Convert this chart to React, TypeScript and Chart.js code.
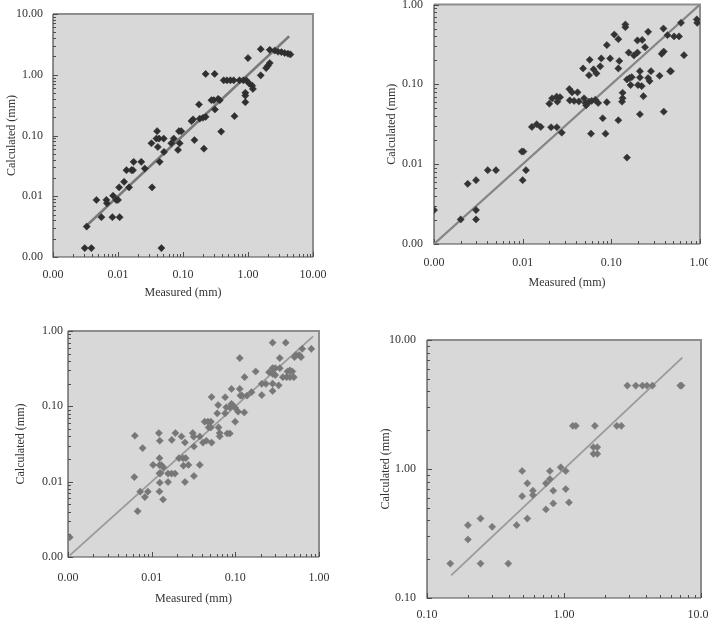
import React, { useEffect, useRef } from "react";
import { Chart, registerables } from "chart.js";

Chart.register(...registerables);

// ---- Panel A (top left) ----
const measuredA = [
  0.00308, 0.00389, 0.0033, 0.00556, 0.00466, 0.00663, 0.00676, 0.0094, 0.01, 0.0084,
  0.0082, 0.0106, 0.0104, 0.0124, 0.0135, 0.0161, 0.017, 0.0148, 0.0174, 0.0228,
  0.0258, 0.0327, 0.039, 0.0428, 0.04, 0.041, 0.0438, 0.0505, 0.051, 0.0465,
  0.0334, 0.066, 0.072, 0.0868, 0.094, 0.089, 0.0838, 0.15, 0.21, 0.135,
  0.143, 0.181, 0.203, 0.223, 0.176, 0.274, 0.298, 0.347, 0.368, 0.31,
  0.387, 0.62, 0.223, 0.307, 0.423, 0.475, 0.536, 0.603, 0.74, 0.85,
  0.94, 1.05, 1.16, 1.19, 0.91, 0.91, 0.91, 1.0, 1.57, 1.9,
  2.03, 2.16, 1.57, 2.16, 2.58, 2.9, 3.27, 3.67, 4.12, 4.49,
];
const calculatedA = [
  0.0014, 0.0014, 0.00317, 0.00452, 0.00868, 0.0087, 0.0077, 0.0087, 0.0087, 0.0102,
  0.00452, 0.00452, 0.014, 0.0173, 0.0269, 0.0269, 0.0269, 0.014, 0.0368, 0.0368,
  0.0286, 0.0745, 0.089, 0.089, 0.118, 0.0647, 0.0368, 0.089, 0.0536, 0.0014,
  0.014, 0.0745, 0.089, 0.118, 0.118, 0.0745, 0.0579, 0.084, 0.0607, 0.173,
  0.184, 0.189, 0.196, 0.203, 0.324, 0.381, 0.381, 0.4, 0.381, 0.268,
  0.116, 0.208, 1.03, 1.03, 0.81, 0.81, 0.81, 0.81, 0.81, 0.81,
  0.81, 0.714, 0.662, 0.585, 0.504, 0.454, 0.353, 1.88, 0.977, 1.29,
  1.41, 1.56, 2.64, 2.57, 2.5, 2.39, 2.36, 2.28, 2.22, 2.16,
];
const fitA = [0.0033, 4.3];
const ticksA = [0.001, 0.01, 0.1, 1, 10];

// ---- Panel B (top right) ----
const measuredB = [
  0.001, 0.002, 0.0024, 0.00298, 0.00298, 0.00298, 0.00404, 0.005, 0.00977, 0.0102,
  0.01, 0.0109, 0.0127, 0.0144, 0.016, 0.0209, 0.0243, 0.0276, 0.144, 0.144,
  0.108, 0.12, 0.089, 0.26, 0.197, 0.223, 0.24, 0.387, 0.43, 0.51,
  0.58, 0.61, 0.92, 0.93, 0.66, 0.37, 0.39, 0.46, 0.47, 0.35,
  0.28, 0.26, 0.27, 0.21, 0.21, 0.2, 0.22, 0.23, 0.16, 0.17,
  0.15, 0.165, 0.157, 0.18, 0.197, 0.134, 0.134, 0.132, 0.21, 0.39,
  0.15, 0.12, 0.08, 0.059, 0.086, 0.048, 0.057, 0.077, 0.097, 0.123,
  0.063, 0.068, 0.056, 0.075, 0.12, 0.02, 0.0215, 0.0242, 0.0264, 0.0246,
  0.0336, 0.0361, 0.0416, 0.034, 0.038, 0.043, 0.0493, 0.051, 0.052, 0.056,
  0.06, 0.066, 0.071, 0.089,
];
const calculatedB = [
  0.00266, 0.00203, 0.00567, 0.0063, 0.00266, 0.00203, 0.0084, 0.0084, 0.0144, 0.0144,
  0.0063, 0.0084, 0.0293, 0.0316, 0.0293, 0.029, 0.029, 0.0248, 0.562, 0.52,
  0.42, 0.368, 0.31, 0.455, 0.355, 0.36, 0.292, 0.5, 0.413, 0.398,
  0.398, 0.59, 0.65, 0.59, 0.232, 0.241, 0.257, 0.146, 0.146, 0.128,
  0.146, 0.12, 0.11, 0.146, 0.122, 0.098, 0.095, 0.071, 0.12, 0.123,
  0.115, 0.098, 0.25, 0.23, 0.25, 0.0785, 0.067, 0.0607, 0.0422, 0.0455,
  0.0121, 0.0355, 0.0376, 0.0241, 0.0241, 0.158, 0.203, 0.211, 0.211, 0.196,
  0.154, 0.137, 0.13, 0.168, 0.158, 0.0573, 0.0668, 0.07, 0.069, 0.0607,
  0.0873, 0.0794, 0.0794, 0.063, 0.062, 0.061, 0.0668, 0.0584, 0.0546, 0.0607,
  0.062, 0.064, 0.0584, 0.0597,
];
const fitB = [0.001, 1];
const ticksB = [0.001, 0.01, 0.1, 1];

// ---- Panel C (bottom left) ----
const measuredC = [
  0.00105, 0.0063, 0.0062, 0.0078, 0.0068, 0.0073, 0.0083, 0.009, 0.0104, 0.0122,
  0.0125, 0.0124, 0.0124, 0.0124, 0.0125, 0.0124, 0.0137, 0.013, 0.0138, 0.0128,
  0.0157, 0.0157, 0.0173, 0.0174, 0.0192, 0.019, 0.0212, 0.0237, 0.0255, 0.0227,
  0.024, 0.0275, 0.025, 0.025, 0.031, 0.0318, 0.032, 0.032, 0.0376, 0.0376,
  0.041, 0.045, 0.052, 0.043, 0.047, 0.051, 0.051, 0.052, 0.048, 0.0623,
  0.0608, 0.063, 0.065, 0.065, 0.0755, 0.0755, 0.078, 0.086, 0.09, 0.094,
  0.08, 0.086, 0.09, 0.1, 0.108, 0.0995, 0.113, 0.113, 0.12, 0.115,
  0.129, 0.128, 0.138, 0.156, 0.175, 0.207, 0.232, 0.207, 0.253, 0.279,
  0.279, 0.3, 0.34, 0.279, 0.3, 0.279, 0.279, 0.33, 0.4, 0.34,
  0.42, 0.45, 0.48, 0.37, 0.41, 0.45, 0.5, 0.51, 0.53, 0.58,
  0.61, 0.63, 0.81,
];
const calculatedC = [
  0.00183, 0.0407, 0.0115, 0.0279, 0.00406, 0.00736, 0.00624, 0.00736, 0.0167, 0.0442,
  0.0349, 0.0205, 0.0166, 0.0129, 0.0097, 0.0074, 0.0058, 0.0166, 0.0155, 0.013,
  0.0128, 0.0099, 0.0128, 0.0358, 0.0442, 0.0128, 0.0205, 0.0205, 0.0205, 0.0398,
  0.0163, 0.0167, 0.0331, 0.0099, 0.0442, 0.0395, 0.0293, 0.0119, 0.0167, 0.0398,
  0.033, 0.0349, 0.033, 0.0625, 0.0625, 0.0625, 0.0525, 0.133, 0.0525, 0.104,
  0.0807, 0.0525, 0.0442, 0.04, 0.132, 0.0807, 0.097, 0.097, 0.108, 0.102,
  0.0436, 0.0436, 0.17, 0.095, 0.085, 0.0625, 0.437, 0.17, 0.139, 0.139,
  0.244, 0.083, 0.139, 0.154, 0.29, 0.199, 0.199, 0.141, 0.284, 0.7,
  0.321, 0.321, 0.321, 0.27, 0.26, 0.2, 0.16, 0.19, 0.7, 0.437,
  0.29, 0.3, 0.29, 0.244, 0.244, 0.244, 0.244, 0.45, 0.48, 0.48,
  0.45, 0.58, 0.58,
];
const fitC = [0.00105, 0.85];
const ticksC = [0.001, 0.01, 0.1, 1];

// ---- Panel D (bottom right) ----
const measuredD = [
  0.148, 0.199, 0.199, 0.246, 0.246, 0.299, 0.392, 0.451, 0.495, 0.495,
  0.54, 0.54, 0.593, 0.593, 0.738, 0.738, 0.789, 0.789, 0.835, 0.835,
  0.946, 1.03, 1.03, 1.087, 1.16, 1.22, 1.68, 1.64, 1.75, 1.64,
  1.75, 2.43, 2.62, 2.9, 3.34, 3.74, 4.03, 4.42, 7.06, 7.2,
];
const calculatedD = [
  0.185, 0.367, 0.284, 0.413, 0.185, 0.356, 0.185, 0.367, 0.965, 0.616,
  0.774, 0.413, 0.679, 0.628, 0.774, 0.486, 0.965, 0.836, 0.679, 0.541,
  1.03, 0.965, 0.699, 0.551, 2.16, 2.16, 2.16, 1.475, 1.475, 1.31,
  1.31, 2.16, 2.16, 4.43, 4.43, 4.43, 4.43, 4.43, 4.43, 4.43,
];
const fitD = [0.15, 7.3];
const ticksD = [0.1, 1, 10];

const xTitle = "Measured (mm)";
const yTitle = "Calculated (mm)";

const SERIF = "'Liberation Serif', 'DejaVu Serif', 'Times New Roman', serif";

type PanelSpec = {
  left: number;
  top: number;
  width: number;
  height: number;
  measured: number[];
  calculated: number[];
  fit: number[];
  ticks: number[];
  pointColor: string;
  lineColor: string;
  lineWidth: number;
  padTop: number;
  padRight: number;
  yAxisWidth: number;
  xAxisHeight: number;
  xTickPad: number;
  yTickPad: number;
  yTitlePad: number;
  xTitlePad: number | null;
};

// Grey plotting field, frame and inward log ticks on the left and bottom axes
const plotFrame = {
  id: "plotFrame",
  beforeDatasetsDraw(chart: any) {
    const { ctx, chartArea: a, scales } = chart;
    ctx.save();
    ctx.fillStyle = "#d8d8d8";
    ctx.fillRect(a.left, a.top, a.right - a.left, a.bottom - a.top);

    ctx.strokeStyle = "#8d8d8d";
    ctx.lineWidth = 2;
    ctx.beginPath();
    ctx.moveTo(a.left, a.top);
    ctx.lineTo(a.right, a.top);
    ctx.lineTo(a.right, a.bottom);
    ctx.stroke();

    ctx.strokeStyle = "#4d4d4d";
    ctx.lineWidth = 1.2;
    ctx.beginPath();
    ctx.moveTo(a.left, a.top);
    ctx.lineTo(a.left, a.bottom);
    ctx.lineTo(a.right, a.bottom);
    ctx.stroke();

    const minorValues = (min: number, max: number) => {
      const out: { v: number; major: boolean }[] = [];
      const e0 = Math.floor(Math.log10(min)) - 1;
      const e1 = Math.ceil(Math.log10(max)) + 1;
      for (let e = e0; e <= e1; e++) {
        for (let m = 1; m <= 9; m++) {
          const v = m * Math.pow(10, e);
          if (v >= min * 0.999 && v <= max * 1.001) out.push({ v, major: m === 1 });
        }
      }
      return out;
    };

    ctx.lineWidth = 1;
    ctx.strokeStyle = "#4d4d4d";
    ctx.beginPath();
    const ys = scales.y;
    for (const t of minorValues(ys.min, ys.max)) {
      const p = Math.round(ys.getPixelForValue(t.v)) + 0.5;
      ctx.moveTo(a.left, p);
      ctx.lineTo(a.left + (t.major ? 5 : 3), p);
    }
    const xs = scales.x;
    for (const t of minorValues(xs.min, xs.max)) {
      const p = Math.round(xs.getPixelForValue(t.v)) + 0.5;
      ctx.moveTo(p, a.bottom);
      ctx.lineTo(p, a.bottom - (t.major ? 5 : 3));
    }
    ctx.stroke();
    ctx.restore();
  },
};

// Edge labels may overhang the canvas (they get clipped), so the scales
// reserve no extra room for them.
const noLabelPadding = (sc: any) => {
  sc.paddingLeft = 0;
  sc.paddingRight = 0;
  sc.paddingTop = 0;
  sc.paddingBottom = 0;
};

function Panel({ spec }: { spec: PanelSpec }) {
  const ref = useRef<HTMLCanvasElement | null>(null);

  useEffect(() => {
    if (!ref.current) return;
    const s = spec;
    const points = s.measured.map((m, i) => ({ x: m, y: s.calculated[i] }));
    const line = s.fit.map((v) => ({ x: v, y: v }));
    const lo = s.ticks[0];
    const hi = s.ticks[s.ticks.length - 1];
    const fmt = (v: any) => Number(v).toFixed(2);
    const font = { family: SERIF, size: 12 };

    const chart = new Chart(ref.current, {
      type: "scatter",
      data: {
        datasets: [
          {
            data: line,
            showLine: true,
            borderColor: s.lineColor,
            borderWidth: s.lineWidth,
            pointRadius: 0,
            order: 2,
          },
          {
            data: points,
            pointStyle: "rectRot",
            pointRadius: 3.6,
            pointBackgroundColor: s.pointColor,
            pointBorderColor: s.pointColor,
            pointBorderWidth: 0.5,
            order: 1,
          },
        ],
      },
      options: {
        animation: false,
        responsive: false,
        maintainAspectRatio: false,
        events: [],
        layout: { padding: { top: s.padTop, right: s.padRight, left: 0, bottom: 0 } },
        plugins: { legend: { display: false }, tooltip: { enabled: false } },
        scales: {
          x: {
            type: "logarithmic",
            min: lo,
            max: hi,
            grid: { display: false, drawTicks: false },
            border: { display: false },
            afterBuildTicks: (sc: any) => {
              sc.ticks = s.ticks.map((v) => ({ value: v }));
            },
            afterFit: (sc: any) => {
              sc.height = s.xAxisHeight;
              noLabelPadding(sc);
            },
            ticks: {
              autoSkip: false,
              maxRotation: 0,
              padding: s.xTickPad,
              color: "#333",
              font,
              callback: fmt,
            },
            title: {
              display: s.xTitlePad !== null,
              text: xTitle,
              color: "#333",
              font,
              padding: { top: 0, bottom: s.xTitlePad ?? 0 },
            },
          },
          y: {
            type: "logarithmic",
            min: lo,
            max: hi,
            grid: { display: false, drawTicks: false },
            border: { display: false },
            afterBuildTicks: (sc: any) => {
              sc.ticks = s.ticks.map((v) => ({ value: v }));
            },
            afterFit: (sc: any) => {
              sc.width = s.yAxisWidth;
              noLabelPadding(sc);
            },
            ticks: {
              autoSkip: false,
              padding: s.yTickPad,
              color: "#333",
              font,
              callback: fmt,
            },
            title: {
              display: true,
              text: yTitle,
              color: "#333",
              font,
              padding: { top: s.yTitlePad, bottom: 0 },
            },
          },
        },
      },
      plugins: [plotFrame],
    } as any);

    return () => chart.destroy();
  }, [spec]);

  return (
    <canvas
      ref={ref}
      width={spec.width}
      height={spec.height}
      style={{
        position: "absolute",
        left: spec.left,
        top: spec.top,
        width: spec.width,
        height: spec.height,
      }}
    />
  );
}

const panels: PanelSpec[] = [
  {
    left: 0, top: 0, width: 354, height: 315,
    measured: measuredA, calculated: calculatedA, fit: fitA, ticks: ticksA,
    pointColor: "#2f2f2f", lineColor: "#7a7a7a", lineWidth: 2.5,
    padTop: 14, padRight: 41, yAxisWidth: 53, xAxisHeight: 58,
    xTickPad: 11, yTickPad: 10, yTitlePad: 4.8, xTitlePad: 14.5,
  },
  {
    left: 354, top: 0, width: 354, height: 315,
    measured: measuredB, calculated: calculatedB, fit: fitB, ticks: ticksB,
    pointColor: "#333333", lineColor: "#858585", lineWidth: 2.2,
    padTop: 4, padRight: 8, yAxisWidth: 80, xAxisHeight: 71,
    xTickPad: 12, yTickPad: 11, yTitlePad: 30.5, xTitlePad: 24.5,
  },
  {
    left: 0, top: 315, width: 354, height: 314,
    measured: measuredC, calculated: calculatedC, fit: fitC, ticks: ticksC,
    pointColor: "#777777", lineColor: "#9a9a9a", lineWidth: 1.8,
    padTop: 16, padRight: 35, yAxisWidth: 68, xAxisHeight: 72,
    xTickPad: 14, yTickPad: 5, yTitlePad: 13.8, xTitlePad: 22.8,
  },
  {
    left: 354, top: 315, width: 354, height: 314,
    measured: measuredD, calculated: calculatedD, fit: fitD, ticks: ticksD,
    pointColor: "#7a7a7a", lineColor: "#9a9a9a", lineWidth: 1.8,
    padTop: 25, padRight: 7, yAxisWidth: 73, xAxisHeight: 31,
    xTickPad: 10, yTickPad: 11, yTitlePad: 24.5, xTitlePad: null,
  },
];

export default function App() {
  return (
    <div
      style={{
        position: "absolute",
        left: 0,
        top: 0,
        width: 708,
        height: 629,
        background: "#ffffff",
        overflow: "hidden",
      }}
    >
      {panels.map((p, i) => (
        <Panel key={i} spec={p} />
      ))}
    </div>
  );
}
